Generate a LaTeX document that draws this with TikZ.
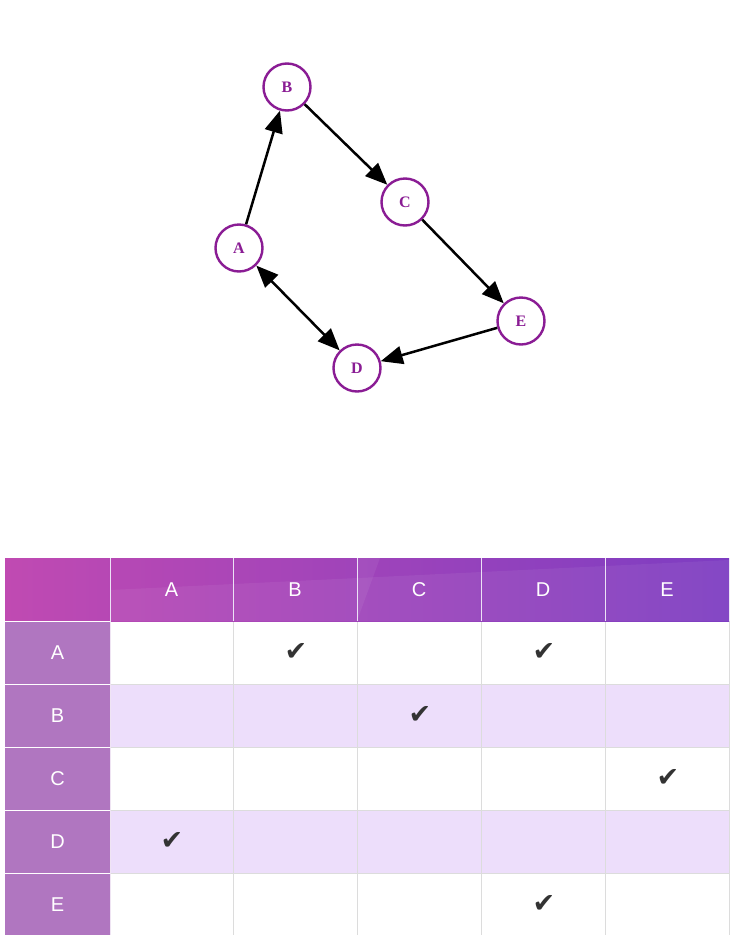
\documentclass[tikz,border=0pt]{standalone}
\usepackage{fontspec}
\setmainfont{Liberation Sans}
\newfontfamily\lblfont{Liberation Serif}
\newfontfamily\symfont{DejaVu Sans}
\usetikzlibrary{arrows.meta}
\definecolor{nodepurple}{HTML}{8A1C94}
\definecolor{hdrleft}{HTML}{C04AB2}
\definecolor{hdrright}{HTML}{7D3DC2}
\definecolor{rowhdr}{HTML}{B076C0}
\definecolor{lav}{HTML}{EDDEFB}
\definecolor{gridgray}{HTML}{DCDCDC}
\definecolor{checkgray}{HTML}{333333}
\tikzset{
  gnode/.style={circle, draw=nodepurple, line width=2.4pt, fill=white, minimum size=47pt, inner sep=0pt,
    font=\lblfont\bfseries\fontsize{16}{16}\selectfont, text=nodepurple},
  edge/.style={line width=2.5pt, -{Triangle[length=22pt,width=18pt]}},
  biedge/.style={line width=2.5pt, {Triangle[length=22pt,width=18pt]}-{Triangle[length=22pt,width=18pt]}},
  hdrtext/.style={text=white, font=\fontsize{20}{20}\selectfont},
  checkmk/.style={text=checkgray, font=\symfont\fontsize{27}{27}\selectfont}
}
\begin{document}
\begin{tikzpicture}[x=1pt,y=-1pt]
\useasboundingbox (0,0) rectangle (735,935);
\fill[white] (0,0) rectangle (735,935);
% graph
\node[gnode] (B) at (287,87) {B};
\node[gnode] (C) at (405,202) {C};
\node[gnode] (A) at (239,248) {A};
\node[gnode] (E) at (521,321) {E};
\node[gnode] (D) at (357,368) {D};
\draw[edge] (A) -- (B);
\draw[edge] (B) -- (C);
\draw[edge] (C) -- (E);
\draw[edge] (E) -- (D);
\draw[biedge] (A) -- (D);
% table body rows
\foreach \r/\y in {1/621,3/747,5/873} {
  \fill[white] (110,\y) rectangle (729,\y+63);
}
\foreach \r/\y in {2/684,4/810} {
  \fill[lav] (110,\y) rectangle (729,\y+63);
}
% grid lines
\foreach \x in {233,357,481,605,729} {
  \draw[gridgray, line width=0.8pt] (\x,621) -- (\x,935);
}
\foreach \y in {684,747,810,873} {
  \draw[gridgray, line width=0.8pt] (110,\y) -- (729,\y);
}
% header
\shade[left color=hdrleft, right color=hdrright] (5,558) rectangle (729,621);
\fill[white, opacity=0.06] (110,621) -- (110,590) -- (729,560) -- (729,621) -- cycle;
\fill[white, opacity=0.06] (357,621) -- (380,558) -- (357,558) -- cycle;
\foreach \x in {110,233,357,481,605} {
  \draw[white!85!hdrright, line width=0.8pt] (\x,558) -- (\x,621);
}
% row header column
\fill[rowhdr] (5,621) rectangle (110,935);
\foreach \y in {621,684,747,810,873} {
  \draw[white, line width=1pt] (5,\y) -- (110,\y);
}
\draw[white!80!rowhdr, line width=1pt] (110,621) -- (110,935);
% header labels
\node[hdrtext] (hA) at (171.5,590) {A};
\node[hdrtext] (hB) at (295,590) {B};
\node[hdrtext] (hC) at (419,590) {C};
\node[hdrtext] (hD) at (543,590) {D};
\node[hdrtext] (hE) at (667,590) {E};
\node[hdrtext] (rA) at (57.5,653) {A};
\node[hdrtext] (rB) at (57.5,716) {B};
\node[hdrtext] (rC) at (57.5,779) {C};
\node[hdrtext] (rD) at (57.5,842) {D};
\node[hdrtext] (rE) at (57.5,905) {E};
% checks
\node[checkmk] (kAB) at (296,652) {✔};
\node[checkmk] (kAD) at (544,652) {✔};
\node[checkmk] (kBC) at (420,715) {✔};
\node[checkmk] (kCE) at (668,778) {✔};
\node[checkmk] (kDA) at (172,841) {✔};
\node[checkmk] (kED) at (544,904) {✔};
\end{tikzpicture}
\end{document}
